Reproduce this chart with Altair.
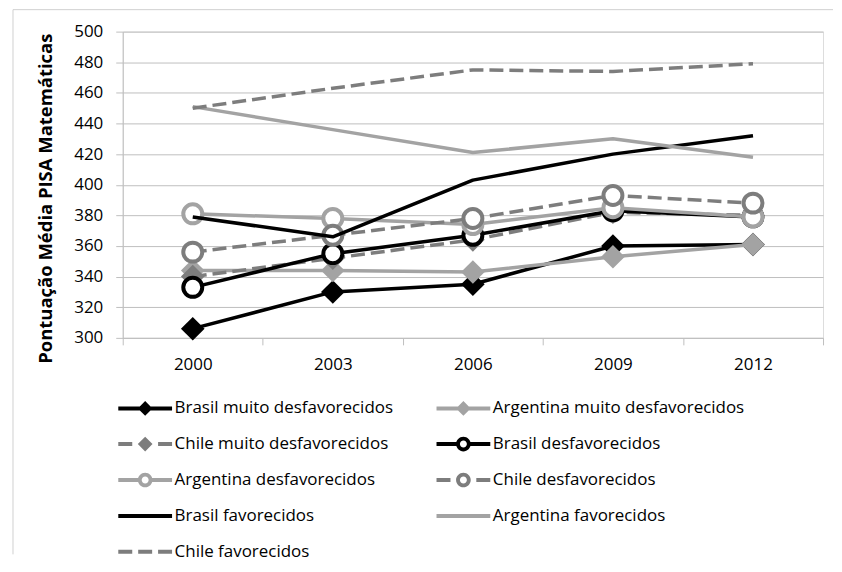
import altair as alt
import pandas as pd

years = ["2000", "2003", "2006", "2009", "2012"]
series_names = [
    "Brasil muito desfavorecidos",
    "Argentina muito desfavorecidos",
    "Chile muito desfavorecidos",
    "Brasil desfavorecidos",
    "Argentina desfavorecidos",
    "Chile desfavorecidos",
    "Brasil favorecidos",
    "Argentina favorecidos",
    "Chile favorecidos",
]
brasil_muito = [306, 330, 335, 360, 361]
argentina_muito = [344, 344, 343, 353, 361]
chile_muito = [340, 352, 364, 382, 380]
brasil_desf = [333, 355, 367, 383, 379]
argentina_desf = [381, 378, 374, 385, 379]
chile_desf = [356, 367, 378, 393, 388]
brasil_fav = [379, 366, 403, 420, 432]
argentina_fav = [451, 436, 421, 430, 418]
chile_fav = [450, 463, 475, 474, 479]
series_values = [brasil_muito, argentina_muito, chile_muito, brasil_desf,
                 argentina_desf, chile_desf, brasil_fav, argentina_fav, chile_fav]

BLACK = "#000000"
LIGHT = "#a3a3a3"
DARK = "#7d7d7d"
series_color = [BLACK, LIGHT, DARK, BLACK, LIGHT, DARK, BLACK, LIGHT, DARK]
series_dashed = [False, False, True, False, False, True, False, False, True]
series_marker = ["diamond", "diamond", "diamond", "circle", "circle", "circle", None, None, None]

rows = []
for name, vals in zip(series_names, series_values):
    for yr, v in zip(years, vals):
        rows.append({"year": yr, "value": v, "series": name})
df = pd.DataFrame(rows)

FONT = "Open Sans"

x_enc = alt.X(
    "year:O",
    scale=alt.Scale(type="band", domain=years, paddingInner=0, paddingOuter=0),
    bandPosition=0.5,
    axis=alt.Axis(
        title=None, labelAngle=0, tickBand="extent", tickSize=7,
        labelPadding=12, labelFont=FONT, labelFontSize=17, labelColor="#000",
        domainColor="#bfbfbf", tickColor="#bfbfbf", grid=False,
    ),
)
y_enc = alt.Y(
    "value:Q",
    scale=alt.Scale(domain=[300, 500], nice=False, zero=False),
    axis=alt.Axis(
        values=list(range(300, 501, 20)),
        title="Pontuação Média  PISA Matemáticas",
        titleFont=FONT, titleFontSize=18.5, titleFontWeight="bold", titleColor="#000",
        titleAngle=270, titleX=-77, titleY=167, titleAlign="center", titleBaseline="middle",
        labelFont=FONT, labelFontSize=17, labelColor="#000", labelPadding=13,
        tickSize=7, tickColor="#bfbfbf", domainColor="#bfbfbf",
        grid=True, gridColor="#bfbfbf", gridWidth=1,
    ),
)

base = alt.Chart(df)
layers = []
for name, col, dashed, marker in zip(series_names, series_color, series_dashed, series_marker):
    line_kwargs = dict(color=col, strokeWidth=3.5, strokeJoin="round")
    if dashed:
        line_kwargs["strokeDash"] = [14, 6]
    layers.append(
        base.mark_line(**line_kwargs)
        .encode(x=x_enc, y=y_enc)
        .transform_filter(alt.datum.series == name)
    )
    if marker == "diamond":
        layers.append(
            base.mark_point(shape="diamond", filled=True, size=560, color=col, opacity=1, strokeWidth=0)
            .encode(x=x_enc, y=y_enc)
            .transform_filter(alt.datum.series == name)
        )
    elif marker == "circle":
        layers.append(
            base.mark_point(shape="circle", filled=False, size=361, stroke=col, fill="white",
                            opacity=1, strokeWidth=4)
            .encode(x=x_enc, y=y_enc)
            .transform_filter(alt.datum.series == name)
        )

# legend symbols: line + marker glyphs as custom paths (unit = 17.5 px)
def rect(a, b, h=0.115):
    return f"M{a},{-h}L{b},{-h}L{b},{h}L{a},{h}Z"

DIAMOND = "M-0.42,0L0,-0.42L0.42,0L0,0.42Z"
RING = ("M0.42,0A0.42,0.42 0 1,1 -0.42,0A0.42,0.42 0 1,1 0.42,0Z"
        "M0.2,0A0.2,0.2 0 1,0 -0.2,0A0.2,0.2 0 1,0 0.2,0Z")
L = 1.54


def legend_path(dashed, marker):
    if marker is None:
        if dashed:
            return rect(-L, -0.74) + rect(-0.4, 0.4) + rect(0.74, L)
        return rect(-L, L)
    glyph = DIAMOND if marker == "diamond" else RING
    if dashed:
        return rect(-L, -0.74) + glyph + rect(0.74, L)
    if marker == "diamond":
        return rect(-L, L) + glyph
    return rect(-L, -0.36) + glyph + rect(0.36, L)


# legend fills column by column: order so that it reads row by row in 2 columns
legend_order = [0, 2, 4, 6, 8, 1, 3, 5, 7]
legend_domain = [series_names[i] for i in legend_order]
legend_paths = [legend_path(series_dashed[i], series_marker[i]) for i in legend_order]
legend_colors = [series_color[i] for i in legend_order]

legend_props = dict(
    orient="none", legendX=5, legendY=360, columns=2, title=None,
    symbolSize=1225, labelOffset=12, columnPadding=42, rowPadding=10,
    labelFont=FONT, labelFontSize=17, labelColor="#000", labelLimit=400,
    symbolStrokeWidth=0, symbolOpacity=1, padding=0,
)
legend_layer = (
    alt.Chart(df)
    .mark_point(filled=True, size=1225, strokeWidth=0, opacity=1)
    .encode(
        x=x_enc, y=y_enc,
        shape=alt.Shape("series:N", scale=alt.Scale(domain=legend_domain, range=legend_paths),
                        legend=alt.Legend(**legend_props)),
        fill=alt.Fill("series:N", scale=alt.Scale(domain=legend_domain, range=legend_colors),
                      legend=alt.Legend(**legend_props)),
    )
    .transform_filter("false")
)

frame_data = alt.Data(values=[{}])
frame_top = alt.Chart(frame_data).mark_rule(color="#d0d0d0", strokeWidth=1).encode(
    x=alt.value(-110), x2=alt.value(712), y=alt.value(-22))
frame_left = alt.Chart(frame_data).mark_rule(color="#d0d0d0", strokeWidth=1).encode(
    x=alt.value(-110), y=alt.value(-22), y2=alt.value(524))

chart = (
    alt.layer(frame_top, frame_left, *layers, legend_layer)
    .properties(width=702, height=307, padding={"left": 4, "top": 0, "right": 0, "bottom": 0})
    .configure_view(strokeWidth=0)
    .configure(background="white")
)

chart.save("out.html", embed_options={"renderer": "svg", "actions": False})
